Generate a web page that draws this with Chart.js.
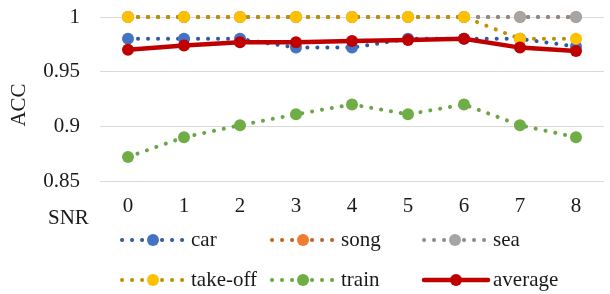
<!DOCTYPE html>
<html>
<head>
<meta charset="utf-8">
<script src="https://cdn.jsdelivr.net/npm/chart.js@4"></script>
<style>
  html, body { margin: 0; padding: 0; background: #fff; }
  #wrap { width: 610px; height: 294px; }
</style>
</head>
<body>
<div id="wrap"><canvas id="acc-chart" width="610" height="294"></canvas></div>
<script>
const snrLabels = ['0', '1', '2', '3', '4', '5', '6', '7', '8'];
const yTicks = [0.85, 0.9, 0.95, 1];

const carAcc     = [0.980, 0.980, 0.980, 0.972, 0.972, 0.980, 0.980, 0.980, 0.973];
const songAcc    = [1, 1, 1, 1, 1, 1, 1, 1, 1];
const seaAcc     = [1, 1, 1, 1, 1, 1, 1, 1, 1];
const takeoffAcc = [1, 1, 1, 1, 1, 1, 1, 0.980, 0.980];
const trainAcc   = [0.872, 0.890, 0.901, 0.911, 0.920, 0.911, 0.920, 0.901, 0.890];
const averageAcc = [0.970, 0.974, 0.977, 0.977, 0.978, 0.979, 0.980, 0.972, 0.969];

const FONT = '"Liberation Serif", "Times New Roman", serif';
const TEXT = '#1a1a1a';

// name, values, line colour, marker colour, dotted?
const series = [
    { name: 'car',      data: carAcc,     line: '#2f5aa8', mark: '#4472c4', dotted: true },
    { name: 'song',     data: songAcc,    line: '#c8601e', mark: '#ed7d31', dotted: true },
    { name: 'sea',      data: seaAcc,     line: '#8c8c8c', mark: '#a5a5a5', dotted: true },
    { name: 'take-off', data: takeoffAcc, line: '#bf9000', mark: '#ffc000', dotted: true },
    { name: 'train',    data: trainAcc,   line: '#6aa744', mark: '#70ad47', dotted: true },
    { name: 'average',  data: averageAcc, line: '#c00000', mark: '#c00000', dotted: false }
];

const datasets = series.map((s, i) => ({
    label: s.name,
    data: s.data,
    borderColor: s.line,
    borderWidth: s.dotted ? 4 : 4.5,
    borderDash: s.dotted ? [0.1, 9.9] : [],
    borderCapStyle: 'round',
    pointRadius: 6,
    pointHoverRadius: 6,
    pointBackgroundColor: s.mark,
    pointBorderWidth: 0,
    tension: 0,
    clip: false,
    order: series.length - i
}));

// legend laid out in columns like the original
const legendCols = [120, 270, 422];
const legendRows = [240, 280];

const extrasPlugin = {
    id: 'extras',
    afterDraw(chart) {
        const c = chart.ctx;
        c.save();
        c.fillStyle = TEXT;
        c.font = '21px ' + FONT;
        c.textBaseline = 'middle';
        c.textAlign = 'left';
        c.fillText('SNR', 48, 218);
        c.save();
        c.translate(19, 105);
        c.rotate(-Math.PI / 2);
        c.textAlign = 'center';
        c.fillText('ACC', 0, 0);
        c.restore();

        series.forEach((s, i) => {
            const x0 = legendCols[i % 3];
            const y = legendRows[Math.floor(i / 3)];
            const w = s.dotted ? 64 : 66;
            c.beginPath();
            c.strokeStyle = s.line;
            c.lineWidth = s.dotted ? 4 : 4.5;
            c.lineCap = 'round';
            c.setLineDash(s.dotted ? [0.1, 9.9] : []);
            c.moveTo(x0 + 2, y);
            c.lineTo(x0 + w, y);
            c.stroke();
            c.setLineDash([]);
            c.beginPath();
            c.fillStyle = s.mark;
            c.arc(x0 + w / 2 + 1, y, 6, 0, Math.PI * 2);
            c.fill();
            c.fillStyle = TEXT;
            c.fillText(s.name, x0 + 71, y);
        });
        c.restore();
    }
};

const ctx = document.getElementById('acc-chart').getContext('2d');
const accChart = new Chart(ctx, {
    type: 'line',
    data: { labels: snrLabels, datasets: datasets },
    options: {
        responsive: false,
        animation: false,
        events: [],
        layout: { padding: { top: 17, right: 0, left: 0, bottom: 0 } },
        plugins: { legend: { display: false }, tooltip: { enabled: false } },
        scales: {
            x: {
                offset: true,
                grid: { display: false, drawTicks: false },
                border: { display: false },
                ticks: { color: TEXT, font: { family: FONT, size: 21 }, padding: 13, maxRotation: 0 },
                afterFit(scale) {
                    scale.height = 113;
                    scale.paddingLeft = 0;
                    scale.paddingRight = 0;
                }
            },
            y: {
                min: 0.85,
                max: 1,
                afterBuildTicks(scale) { scale.ticks = yTicks.map(v => ({ value: v })); },
                grid: { color: '#d9d9d9', lineWidth: 1, drawTicks: false },
                border: { display: false },
                ticks: {
                    color: TEXT,
                    font: { family: FONT, size: 21 },
                    padding: 20,
                    callback: v => String(+v.toFixed(2))
                },
                afterFit(scale) {
                    scale.width = 100;
                    scale.paddingTop = 0;
                    scale.paddingBottom = 0;
                }
            }
        }
    },
    plugins: [extrasPlugin]
});
</script>
</body>
</html>
